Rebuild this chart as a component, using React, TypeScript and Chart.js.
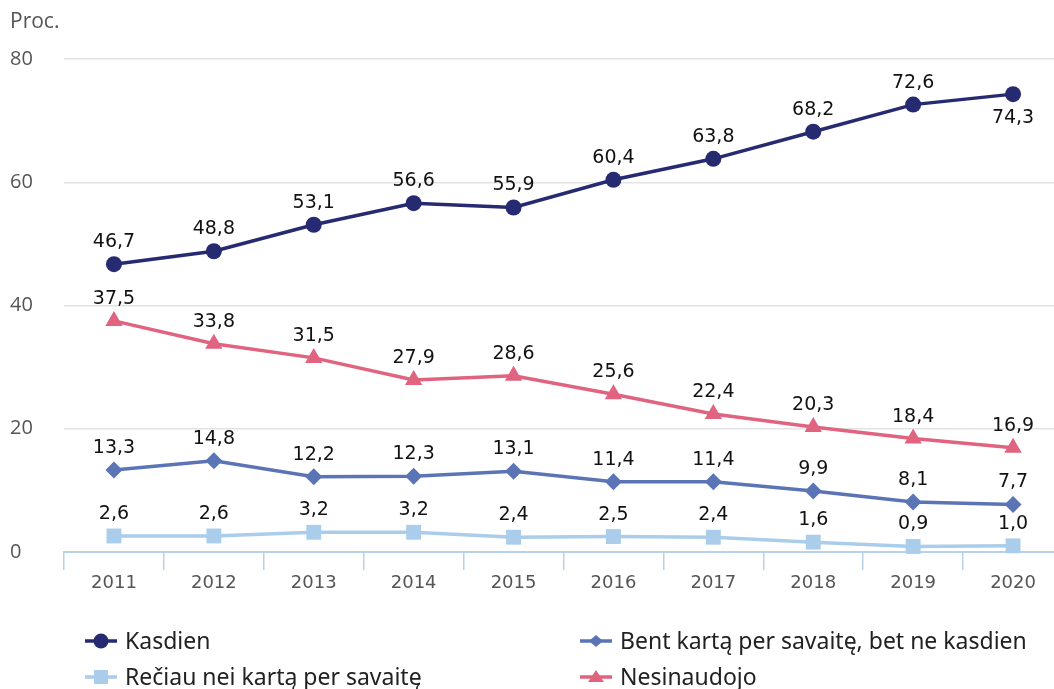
import React, { useEffect, useRef } from "react";
import { Chart, registerables } from "chart.js";

Chart.register(...registerables);

const years = ["2011", "2012", "2013", "2014", "2015", "2016", "2017", "2018", "2019", "2020"];
const kasdien = [46.7, 48.8, 53.1, 56.6, 55.9, 60.4, 63.8, 68.2, 72.6, 74.3];
const bentKarta = [13.3, 14.8, 12.2, 12.3, 13.1, 11.4, 11.4, 9.9, 8.1, 7.7];
const reciau = [2.6, 2.6, 3.2, 3.2, 2.4, 2.5, 2.4, 1.6, 0.9, 1.0];
const nesinaudojo = [37.5, 33.8, 31.5, 27.9, 28.6, 25.6, 22.4, 20.3, 18.4, 16.9];
const yTicks = [0, 20, 40, 60, 80];

const seriesNames = [
  "Kasdien",
  "Bent kartą per savaitę, bet ne kasdien",
  "Rečiau nei kartą per savaitę",
  "Nesinaudojo",
];
const colors = ["#262a70", "#5b74b6", "#a9cdea", "#e0637f"];
const pointStyles = ["circle", "rectRot", "rect", "triangle"];
const pointRadii = [8, 8.5, 10.5, 10];

const fmt = (v: number) => v.toFixed(1).replace(".", ",");

const labelsPlugin = {
  id: "valueLabels",
  afterDatasetsDraw(chart: any) {
    const ctx = chart.ctx;
    ctx.save();
    ctx.font = "19px 'DejaVu Sans'";
    ctx.fillStyle = "#111";
    ctx.textAlign = "center";
    ctx.textBaseline = "middle";
    chart.data.datasets.forEach((ds: any, di: number) => {
      const meta = chart.getDatasetMeta(di);
      meta.data.forEach((pt: any, i: number) => {
        const v = ds.data[i];
        const below = di === 0 && i === ds.data.length - 1;
        const dy = below ? 24 : -22;
        ctx.fillText(fmt(v), pt.x, pt.y + dy);
      });
    });
    ctx.restore();
  },
};

const decorPlugin = {
  id: "decor",
  afterDraw(chart: any) {
    const ctx = chart.ctx;
    ctx.save();
    // unit caption
    ctx.font = "21px 'Open Sans'";
    ctx.fillStyle = "#555";
    ctx.textAlign = "left";
    ctx.textBaseline = "middle";
    ctx.fillText("Proc.", 10, 22);

    // legend in two columns
    const items = [
      { x: 85, y: 641, i: 0 },
      { x: 580, y: 641, i: 1 },
      { x: 85, y: 677, i: 2 },
      { x: 580, y: 677, i: 3 },
    ];
    items.forEach(({ x, y, i }) => {
      ctx.strokeStyle = colors[i];
      ctx.fillStyle = colors[i];
      ctx.lineWidth = 3.5;
      ctx.beginPath();
      ctx.moveTo(x, y);
      ctx.lineTo(x + 32, y);
      ctx.stroke();
      const cx = x + 16;
      ctx.beginPath();
      if (i === 0) {
        ctx.arc(cx, y, 7.5, 0, Math.PI * 2);
      } else if (i === 1) {
        ctx.moveTo(cx, y - 6);
        ctx.lineTo(cx + 7, y);
        ctx.lineTo(cx, y + 6);
        ctx.lineTo(cx - 7, y);
        ctx.closePath();
      } else if (i === 2) {
        ctx.rect(cx - 7, y - 7, 14, 14);
      } else {
        ctx.moveTo(cx, y - 7);
        ctx.lineTo(cx + 8, y + 5);
        ctx.lineTo(cx - 8, y + 5);
        ctx.closePath();
      }
      ctx.fill();
      ctx.font = "23px 'Noto Sans'";
      ctx.fillStyle = "#222";
      ctx.textBaseline = "middle";
      ctx.fillText(seriesNames[i], x + 40, y + 1);
    });
    ctx.restore();
  },
};

export default function App() {
  const ref = useRef<HTMLCanvasElement | null>(null);

  useEffect(() => {
    if (!ref.current) return;
    const allSeries = [kasdien, bentKarta, reciau, nesinaudojo];
    const chart = new Chart(ref.current, {
      type: "line",
      data: {
        labels: years,
        datasets: allSeries.map((d, i) => ({
          label: seriesNames[i],
          data: d,
          borderColor: colors[i],
          backgroundColor: colors[i],
          borderWidth: 3.5,
          pointStyle: pointStyles[i] as any,
          pointRadius: pointRadii[i],
          pointBorderWidth: 0,
          tension: 0,
          clip: false as any,
        })),
      },
      options: {
        animation: false,
        responsive: false,
        layout: { autoPadding: false, padding: { left: 10, right: 5, top: 59, bottom: 87 } },
        plugins: {
          legend: { display: false },
          tooltip: { enabled: false },
        },
        scales: {
          x: {
            offset: true,
            afterFit: (s: any) => {
              s.height = 50;
            },
            grid: {
              offset: true,
              drawOnChartArea: false,
              drawTicks: true,
              tickLength: 18,
              color: "#b7d1ea",
              lineWidth: 1.5,
            },
            border: { color: "#b7d1ea", width: 2 },
            ticks: {
              color: "#555",
              font: { family: "'DejaVu Sans'", size: 18 },
              padding: 3,
            },
          },
          y: {
            min: 0,
            max: 80,
            afterFit: (s: any) => {
              s.width = 54;
            },
            afterBuildTicks: (s: any) => {
              s.ticks = yTicks.map((v) => ({ value: v }));
            },
            border: { display: false },
            grid: {
              drawTicks: false,
              color: (c: any) => (c.tick && c.tick.value === 0 ? "rgba(0,0,0,0)" : "#e3e3e3"),
              lineWidth: 1.5,
            },
            ticks: {
              crossAlign: "far",
              color: "#555",
              font: { family: "'Open Sans'", size: 20 },
              padding: 0,
            },
          },
        },
      },
      plugins: [labelsPlugin, decorPlugin],
    });
    return () => chart.destroy();
  }, []);

  return (
    <div
      style={{
        position: "absolute",
        left: 0,
        top: 0,
        width: 1054,
        height: 689,
        overflow: "hidden",
        background: "#fff",
      }}
    >
      <canvas ref={ref} width={1068} height={689} style={{ display: "block" }} />
    </div>
  );
}
